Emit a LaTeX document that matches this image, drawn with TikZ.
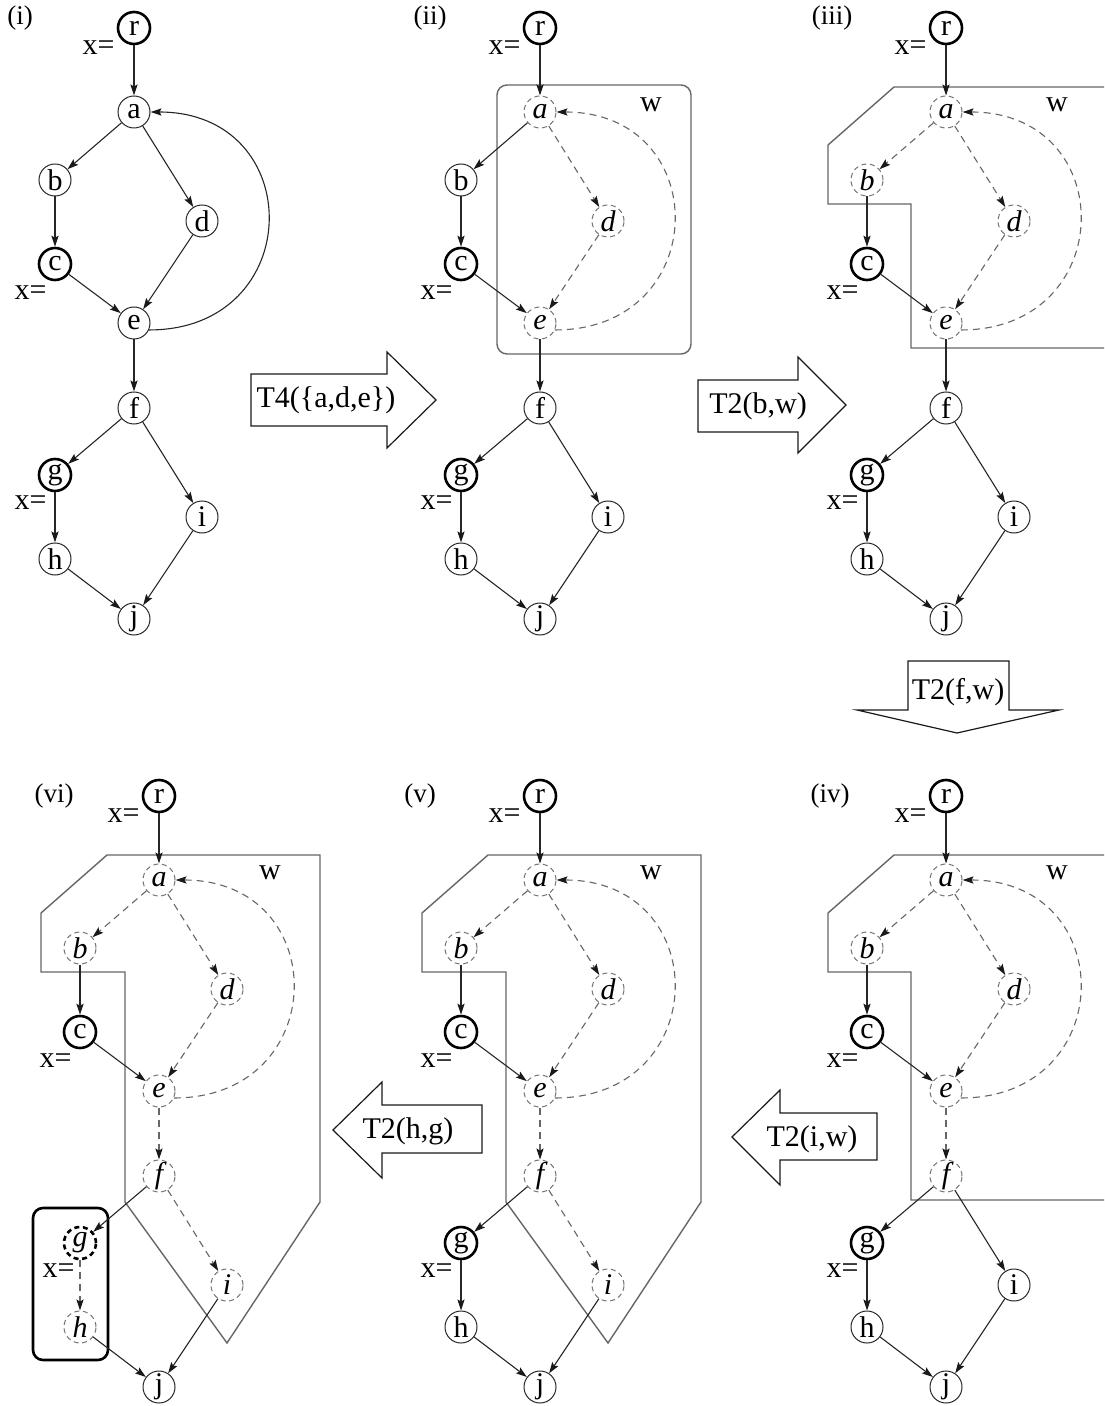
\documentclass[tikz,border=0pt]{standalone}
\usepackage{fontspec}
\setmainfont{Liberation Serif}
\usetikzlibrary{arrows.meta}
\newcommand\vsz{\fontsize{15}{18}\selectfont}
\newcommand\psz{\fontsize{13.5}{16}\selectfont}
\begin{document}
\begin{tikzpicture}[x=0.5pt,y=-0.5pt,
  vtx/.style={circle, draw=black!85, line width=0.5pt, minimum size=16pt, inner sep=0pt, font=\vsz},
  vtxx/.style={vtx, draw=black, line width=1.3pt},
  vtxd/.style={vtx, draw=black!55, dash pattern=on 2.5pt off 1.8pt, font=\vsz\itshape},
  vtxxd/.style={vtxx, dash pattern=on 2.5pt off 1.8pt, font=\vsz\itshape},
  edge/.style={-{Stealth[length=5.5pt,width=3.6pt,inset=1pt,color=black!90]}, line width=0.55pt, draw=black!85},
  dedge/.style={edge, draw=black!60, dash pattern=on 3.5pt off 2.5pt},
  loopedge/.style={out=0, in=0, looseness=1.85},
  region/.style={draw=black!60, line width=0.7pt},
  blockarrow/.style={draw=black!90, line width=0.6pt},
  xlab/.style={anchor=east, font=\vsz, inner sep=0pt},
  plab/.style={font=\psz, inner sep=0pt},
  wlab/.style={font=\vsz, inner sep=0pt},
  tlab/.style={font=\vsz, inner sep=0pt}]
\path[use as bounding box] (0,0) rectangle (1104,1406);
\clip (0,0) rectangle (1104,1406);

% ---------- (i) ----------
\node[plab] (p1) at (20,18) {(i)};
\begin{scope}[shift={(134,112)}]
\node[vtxx] (r1) at (0,-84) {r};
\node[vtx]  (a1) at (0,0) {a};
\node[vtx]  (b1) at (-79,68) {b};
\node[vtx]  (d1) at (68,109) {d};
\node[vtxx] (c1) at (-79,152) {c};
\node[vtx]  (e1) at (0,211) {e};
\node[vtx]  (f1) at (0,296) {f};
\node[vtxx] (g1) at (-79,363) {g};
\node[vtx]  (i1) at (68,405) {i};
\node[vtx]  (h1) at (-79,447) {h};
\node[vtx]  (j1) at (0,507) {j};
\node[xlab] (xr1) at (-19,-64) {x=};
\node[xlab] (xc1) at (-87,181) {x=};
\node[xlab] (xg1) at (-87,391) {x=};
\draw[edge] (r1) -- (a1);
\draw[edge] (a1) -- (b1);
\draw[edge] (a1) -- (d1);
\draw[edge] (b1) -- (c1);
\draw[edge] (c1) -- (e1);
\draw[edge] (d1) -- (e1);
\draw[edge] (e1.-25) to[loopedge] (a1.east);
\draw[edge] (e1) -- (f1);
\draw[edge] (f1) -- (g1);
\draw[edge] (f1) -- (i1);
\draw[edge] (g1) -- (h1);
\draw[edge] (h1) -- (j1);
\draw[edge] (i1) -- (j1);
\end{scope}

% ---------- (ii) ----------
\node[plab] (p2) at (430,18) {(ii)};
\begin{scope}[shift={(540,112)}]
\draw[region, rounded corners=5pt] (-43,-27) rectangle (151,242);
\node[wlab] (w2) at (111,-7) {w};
\node[vtxx] (r2) at (0,-84) {r};
\node[vtxd] (a2) at (0,0) {a};
\node[vtx]  (b2) at (-79,68) {b};
\node[vtxd] (d2) at (68,109) {d};
\node[vtxx] (c2) at (-79,152) {c};
\node[vtxd] (e2) at (0,211) {e};
\node[vtx]  (f2) at (0,296) {f};
\node[vtxx] (g2) at (-79,363) {g};
\node[vtx]  (i2) at (68,405) {i};
\node[vtx]  (h2) at (-79,447) {h};
\node[vtx]  (j2) at (0,507) {j};
\node[xlab] (xr2) at (-19,-64) {x=};
\node[xlab] (xc2) at (-87,181) {x=};
\node[xlab] (xg2) at (-87,391) {x=};
\draw[edge]  (r2) -- (a2);
\draw[edge]  (a2) -- (b2);
\draw[dedge] (a2) -- (d2);
\draw[edge]  (b2) -- (c2);
\draw[edge]  (c2) -- (e2);
\draw[dedge] (d2) -- (e2);
\draw[dedge] (e2.-25) to[loopedge] (a2.east);
\draw[edge]  (e2) -- (f2);
\draw[edge]  (f2) -- (g2);
\draw[edge]  (f2) -- (i2);
\draw[edge]  (g2) -- (h2);
\draw[edge]  (h2) -- (j2);
\draw[edge]  (i2) -- (j2);
\end{scope}

% ---------- (iii) ----------
\node[plab] (p3) at (832,18) {(iii)};
\begin{scope}[shift={(946,112)}]
\draw[region] (-52,-25) -- (161,-25) -- (161,236) -- (-35,236) -- (-35,92)
  -- (-118,92) -- (-118,33) -- cycle;
\node[wlab] (w3) at (111,-7) {w};
\node[vtxx] (r3) at (0,-84) {r};
\node[vtxd] (a3) at (0,0) {a};
\node[vtxd] (b3) at (-79,68) {b};
\node[vtxd] (d3) at (68,109) {d};
\node[vtxx] (c3) at (-79,152) {c};
\node[vtxd] (e3) at (0,211) {e};
\node[vtx]  (f3) at (0,296) {f};
\node[vtxx] (g3) at (-79,363) {g};
\node[vtx]  (i3) at (68,405) {i};
\node[vtx]  (h3) at (-79,447) {h};
\node[vtx]  (j3) at (0,507) {j};
\node[xlab] (xr3) at (-19,-64) {x=};
\node[xlab] (xc3) at (-87,181) {x=};
\node[xlab] (xg3) at (-87,391) {x=};
\draw[edge]  (r3) -- (a3);
\draw[dedge] (a3) -- (b3);
\draw[dedge] (a3) -- (d3);
\draw[edge]  (b3) -- (c3);
\draw[edge]  (c3) -- (e3);
\draw[dedge] (d3) -- (e3);
\draw[dedge] (e3.-25) to[loopedge] (a3.east);
\draw[edge]  (e3) -- (f3);
\draw[edge]  (f3) -- (g3);
\draw[edge]  (f3) -- (i3);
\draw[edge]  (g3) -- (h3);
\draw[edge]  (h3) -- (j3);
\draw[edge]  (i3) -- (j3);
\end{scope}

% ---------- (iv) ----------
\node[plab] (p4) at (830,796) {(iv)};
\begin{scope}[shift={(946,880)}]
\draw[region] (-52,-25) -- (161,-25) -- (161,320) -- (-35,320) -- (-35,92)
  -- (-118,92) -- (-118,33) -- cycle;
\node[wlab] (w4) at (111,-7) {w};
\node[vtxx] (r4) at (0,-84) {r};
\node[vtxd] (a4) at (0,0) {a};
\node[vtxd] (b4) at (-79,68) {b};
\node[vtxd] (d4) at (68,109) {d};
\node[vtxx] (c4) at (-79,152) {c};
\node[vtxd] (e4) at (0,211) {e};
\node[vtxd] (f4) at (0,296) {f};
\node[vtxx] (g4) at (-79,363) {g};
\node[vtx]  (i4) at (68,405) {i};
\node[vtx]  (h4) at (-79,447) {h};
\node[vtx]  (j4) at (0,507) {j};
\node[xlab] (xr4) at (-19,-64) {x=};
\node[xlab] (xc4) at (-87,181) {x=};
\node[xlab] (xg4) at (-87,391) {x=};
\draw[edge]  (r4) -- (a4);
\draw[dedge] (a4) -- (b4);
\draw[dedge] (a4) -- (d4);
\draw[edge]  (b4) -- (c4);
\draw[edge]  (c4) -- (e4);
\draw[dedge] (d4) -- (e4);
\draw[dedge] (e4.-25) to[loopedge] (a4.east);
\draw[dedge] (e4) -- (f4);
\draw[edge]  (f4) -- (g4);
\draw[edge]  (f4) -- (i4);
\draw[edge]  (g4) -- (h4);
\draw[edge]  (h4) -- (j4);
\draw[edge]  (i4) -- (j4);
\end{scope}

% ---------- (v) ----------
\node[plab] (p5) at (420,796) {(v)};
\begin{scope}[shift={(540,880)}]
\draw[region] (-52,-25) -- (161,-25) -- (161,322) -- (68,463) -- (-34,322)
  -- (-34,92) -- (-118,92) -- (-118,33) -- cycle;
\node[wlab] (w5) at (111,-7) {w};
\node[vtxx] (r5) at (0,-84) {r};
\node[vtxd] (a5) at (0,0) {a};
\node[vtxd] (b5) at (-79,68) {b};
\node[vtxd] (d5) at (68,109) {d};
\node[vtxx] (c5) at (-79,152) {c};
\node[vtxd] (e5) at (0,211) {e};
\node[vtxd] (f5) at (0,296) {f};
\node[vtxx] (g5) at (-79,363) {g};
\node[vtxd] (i5) at (68,405) {i};
\node[vtx]  (h5) at (-79,447) {h};
\node[vtx]  (j5) at (0,507) {j};
\node[xlab] (xr5) at (-19,-64) {x=};
\node[xlab] (xc5) at (-87,181) {x=};
\node[xlab] (xg5) at (-87,391) {x=};
\draw[edge]  (r5) -- (a5);
\draw[dedge] (a5) -- (b5);
\draw[dedge] (a5) -- (d5);
\draw[edge]  (b5) -- (c5);
\draw[edge]  (c5) -- (e5);
\draw[dedge] (d5) -- (e5);
\draw[dedge] (e5.-25) to[loopedge] (a5.east);
\draw[dedge] (e5) -- (f5);
\draw[edge]  (f5) -- (g5);
\draw[dedge] (f5) -- (i5);
\draw[edge]  (g5) -- (h5);
\draw[edge]  (h5) -- (j5);
\draw[edge]  (i5) -- (j5);
\end{scope}

% ---------- (vi) ----------
\node[plab] (p6) at (54,796) {(vi)};
\begin{scope}[shift={(159,880)}]
\draw[region] (-52,-25) -- (161,-25) -- (161,322) -- (68,463) -- (-34,322)
  -- (-34,92) -- (-118,92) -- (-118,33) -- cycle;
\draw[line width=1.3pt, rounded corners=5pt] (-126,328) rectangle (-51,480);
\node[wlab] (w6) at (111,-7) {w};
\node[vtxx]  (r6) at (0,-84) {r};
\node[vtxd]  (a6) at (0,0) {a};
\node[vtxd]  (b6) at (-79,68) {b};
\node[vtxd]  (d6) at (68,109) {d};
\node[vtxx]  (c6) at (-79,152) {c};
\node[vtxd]  (e6) at (0,211) {e};
\node[vtxd]  (f6) at (0,296) {f};
\node[vtxxd] (g6) at (-79,363) {g};
\node[vtxd]  (i6) at (68,405) {i};
\node[vtxd]  (h6) at (-79,447) {h};
\node[vtx]   (j6) at (0,507) {j};
\node[xlab] (xr6) at (-19,-64) {x=};
\node[xlab] (xc6) at (-87,181) {x=};
\node[xlab] (xg6) at (-84,391) {x=};
\draw[edge]  (r6) -- (a6);
\draw[dedge] (a6) -- (b6);
\draw[dedge] (a6) -- (d6);
\draw[edge]  (b6) -- (c6);
\draw[edge]  (c6) -- (e6);
\draw[dedge] (d6) -- (e6);
\draw[dedge] (e6.-25) to[loopedge] (a6.east);
\draw[dedge] (e6) -- (f6);
\draw[edge]  (f6) -- (g6);
\draw[dedge] (f6) -- (i6);
\draw[dedge] (g6) -- (h6);
\draw[edge]  (h6) -- (j6);
\draw[edge]  (i6) -- (j6);
\end{scope}

% ---------- transformation arrows ----------
\draw[blockarrow] (251,374) -- (387,374) -- (387,352) -- (436,400) -- (387,448)
  -- (387,426) -- (251,426) -- cycle;
\node[tlab] (t1) at (326,400) {T4(\{a,d,e\})};
\draw[blockarrow] (698,380) -- (798,380) -- (798,357) -- (846,405) -- (798,453)
  -- (798,432) -- (698,432) -- cycle;
\node[tlab] (t2) at (758,406) {T2(b,w)};
\draw[blockarrow] (908,661) -- (1009,661) -- (1009,710) -- (1059,710) -- (957,733)
  -- (857,710) -- (908,710) -- cycle;
\node[tlab] (t3) at (958,692) {T2(f,w)};
\draw[blockarrow] (482,1105) -- (382,1105) -- (382,1082) -- (333,1130) -- (382,1178)
  -- (382,1153) -- (482,1153) -- cycle;
\node[tlab] (t4) at (408,1131) {T2(h,g)};
\draw[blockarrow] (877,1113) -- (780,1113) -- (780,1090) -- (732,1137) -- (780,1185)
  -- (780,1160) -- (877,1160) -- cycle;
\node[tlab] (t5) at (812,1139) {T2(i,w)};
\end{tikzpicture}
\end{document}
